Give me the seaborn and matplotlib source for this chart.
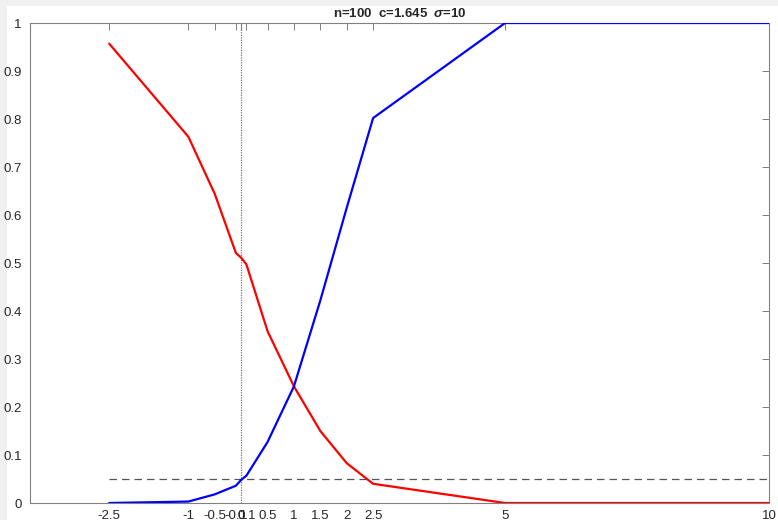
import matplotlib
matplotlib.use("Agg")
import matplotlib.pyplot as plt
import seaborn as sns
import pandas as pd
from matplotlib.patches import Rectangle

# shift values of the mean
x_vals = [-2.5, -1, -0.5, -0.1, 0, 0.1, 0.5, 1, 1.5, 2, 2.5, 5, 10]
# probability of accepting (red) and rejecting (blue)
p_accept = [0.957, 0.763, 0.644, 0.521, 0.511, 0.497, 0.358, 0.243, 0.150, 0.083, 0.040, 0.0, 0.0]
p_reject = [0.0, 0.003, 0.018, 0.036, 0.048, 0.057, 0.127, 0.243, 0.422, 0.615, 0.802, 1.0, 1.0]
tick_labels = ["-2.5", "-1", "-0.5", "-0.1", "0", "0.1", "0.5", "1", "1.5", "2", "2.5", "5", "10"]
alpha_level = 0.05
title_text = r"n=100  c=1.645  $\sigma$=10"

sns.set_theme(style="white")
plt.rcParams["font.family"] = ["Liberation Sans", "DejaVu Sans"]
plt.rcParams["mathtext.fontset"] = "custom"
plt.rcParams["mathtext.it"] = "Liberation Sans:italic:bold"
plt.rcParams["mathtext.rm"] = "Liberation Sans:bold"

df = pd.concat([
    pd.DataFrame({"x": x_vals, "p": p_accept, "curve": "accept"}),
    pd.DataFrame({"x": x_vals, "p": p_reject, "curve": "reject"}),
])

fig = plt.figure(figsize=(7.78, 5.2), dpi=100, facecolor="#f0f0f0")
fig.patches.append(Rectangle((7 / 778, 0), 1, 1 - 6 / 520, transform=fig.transFigure,
                             facecolor="white", edgecolor="none", zorder=-10))
ax = fig.add_axes([30 / 778, 17 / 520, (769 - 30) / 778, (503 - 23) / 520])

sns.lineplot(data=df, x="x", y="p", hue="curve", palette={"accept": "#ff0000", "reject": "#0000ff"},
             linewidth=1.6, sort=False, legend=False, ax=ax, zorder=3)

ax.plot([x_vals[0], x_vals[-1]], [alpha_level, alpha_level], color="#555555",
        linestyle=(0, (6, 4)), linewidth=0.9, zorder=2)
ax.axvline(0, color="#777777", linestyle=(0, (1, 1)), linewidth=0.9, zorder=2)

ax.set_xlim(-4, 10)
ax.set_ylim(0, 1)
ax.set_xticks(x_vals)
ax.set_xticklabels(tick_labels)
ax.set_yticks([i / 10 for i in range(11)])
ax.set_yticklabels(["0", "0.1", "0.2", "0.3", "0.4", "0.5", "0.6", "0.7", "0.8", "0.9", "1"])
ax.set_xlabel("")
ax.set_ylabel("")

for s in ax.spines.values():
    s.set_color("#808080")
    s.set_linewidth(0.8)
ax.tick_params(direction="in", length=5, width=0.7, color="#808080", labelcolor="#262626",
               labelsize=9.5, top=True, right=True)
ax.tick_params(axis="x", pad=5)
ax.tick_params(axis="y", pad=6)
ax.set_title(title_text, fontsize=9.5, fontweight="bold", color="#262626", pad=4)

fig.savefig("out.png", dpi=100, facecolor=fig.get_facecolor())
